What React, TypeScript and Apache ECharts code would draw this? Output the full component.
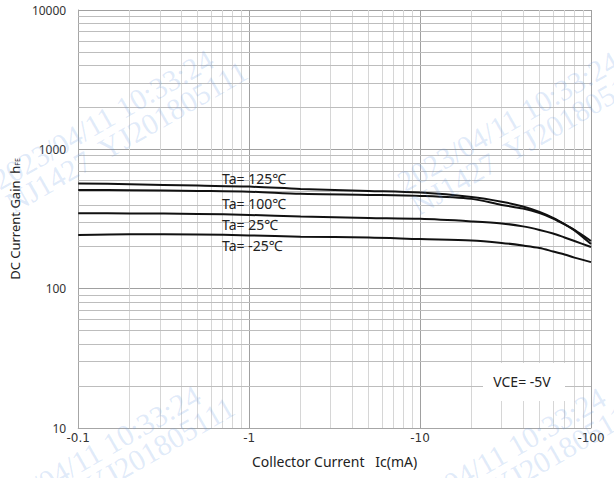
import React, { useEffect, useRef } from 'react';
import * as echarts from 'echarts';

// Collector current Ic (mA, magnitude; labels show negative sign)
const currentMA = [0.1, 0.2, 0.5, 1, 2, 5, 10, 20, 30, 40, 50, 60, 70, 80, 100];
// DC current gain hFE for each ambient temperature
const gain125 = [569, 562, 549, 540, 520, 503, 489, 455, 421, 389, 355, 322, 291, 264, 220];
const gain100 = [511, 509, 503, 497, 479, 471, 463, 441, 399, 376, 349, 319, 289, 262, 209];
const gain25 = [348, 347, 344, 338, 330, 322, 317, 304, 294, 280, 264, 249, 233, 220, 199];
const gainM25 = [243, 246, 245, 241, 236, 233, 227, 222, 213, 204, 196, 185, 176, 167, 155];
const seriesNames = ['Ta= 125℃', 'Ta= 100℃', 'Ta= 25℃', 'Ta= -25℃'];
const xTickLabels = ['-0.1', '-1', '-10', '-100'];
const yTickLabels = ['10', '100', '1000', '10000'];
const xMinorGrid = [0.2, 0.3, 0.4, 0.5, 0.6, 0.7, 0.8, 0.9, 2, 3, 4, 5, 6, 7, 8, 9, 20, 30, 40, 50, 60, 70, 80, 90];
const yMinorGrid = [20, 30, 40, 50, 60, 70, 80, 90, 200, 300, 400, 500, 600, 700, 800, 900, 2000, 3000, 4000, 5000, 6000, 7000, 8000, 9000];
const conditionText = 'VCE= -5V';
const watermarkText = '2023/04/11 10:33:24\nNJ1427  YJ201805111';

export default function App() {
  const ref = useRef<HTMLDivElement>(null);
  useEffect(() => {
    document.body.style.margin = '0';
    const chart = echarts.init(ref.current!, null, { renderer: 'svg' });
    const gains = [gain125, gain100, gain25, gainM25];
    const labelY = [178, 203, 224, 245];
    const wmPos = [[-12, 170], [393, 172], [-25, 506], [380, 508]];
    const font = 'Noto Sans';
    chart.setOption({
      animation: false,
      backgroundColor: '#fff',
      grid: { left: 78, right: 23, top: 10, bottom: 50 },
      xAxis: {
        type: 'log', logBase: 10, min: 0.1, max: 100,
        axisLine: { show: true, lineStyle: { color: '#a6a6a6', width: 1 } },
        axisTick: { show: false },
        axisLabel: { margin: 4, fontSize: 12, color: '#333', fontFamily: 'DejaVu Sans',
          formatter: (v: number, i: number) => xTickLabels[i] ?? '' },
        splitLine: { show: true, lineStyle: { color: '#a0a0a0', width: 1 } },
        name: 'Collector Current   Ic(mA)', nameLocation: 'middle', nameGap: 26,
        nameTextStyle: { fontSize: 14, color: '#222', fontFamily: font },
      },
      yAxis: {
        type: 'log', logBase: 10, min: 10, max: 10000,
        axisLine: { show: true, lineStyle: { color: '#a6a6a6', width: 1 } },
        axisTick: { show: false },
        axisLabel: { margin: 12, fontSize: 12, color: '#333', fontFamily: font,
          formatter: (v: number, i: number) => yTickLabels[i] ?? '' },
        splitLine: { show: true, lineStyle: { color: '#a0a0a0', width: 1 } },
        name: '{a|DC Current Gain  h}{b|FE}', nameLocation: 'middle', nameGap: 48,
        nameTextStyle: {
          rich: {
            a: { fontSize: 13, color: '#222', fontFamily: font, lineHeight: 16, verticalAlign: 'bottom' },
            b: { fontSize: 7, color: '#222', fontFamily: font, lineHeight: 8, verticalAlign: 'bottom' },
          },
        },
      },
      series: [
        {
          type: 'line', data: [], z: 1, silent: true,
          markLine: { silent: true, symbol: ['none', 'none'], label: { show: false }, animation: false,
            lineStyle: { color: '#d6d6d6', type: 'solid', width: 1 },
            data: xMinorGrid.map((v) => ({ xAxis: v })) },
        },
        {
          type: 'line', data: [], z: 1, silent: true,
          markLine: { silent: true, symbol: ['none', 'none'], label: { show: false }, animation: false,
            lineStyle: { color: '#bdbdbd', type: 'solid', width: 1 },
            data: yMinorGrid.map((v) => ({ yAxis: v })) },
        },
        ...gains.map((g, k) => ({
          name: seriesNames[k], type: 'line', smooth: 0.3, showSymbol: false, z: 5,
          lineStyle: { color: '#111', width: 2 },
          data: currentMA.map((x, i) => [x, g[i]]),
        })),
      ],
      graphic: [
        { type: 'rect', shape: { x: 483, y: 363, width: 82, height: 38 }, style: { fill: '#fff' }, z: 10 },
        { type: 'text', x: 522, y: 381, z: 11,
          style: { text: conditionText, fill: '#222', fontSize: 14, fontFamily: font, textAlign: 'center', textVerticalAlign: 'middle' } },
        ...seriesNames.map((n, k) => ({ type: 'text', x: 222, y: labelY[k], z: 11,
          style: { text: n, fill: '#222', fontSize: 14, fontFamily: font, textAlign: 'left', textVerticalAlign: 'middle' } })),
        ...wmPos.map((p) => ({ type: 'text', x: p[0], y: p[1], rotation: 30 * Math.PI / 180, z: 100, silent: true,
          style: { text: watermarkText, fill: 'rgba(100,150,225,0.2)', fontSize: 30, fontFamily: 'Liberation Serif',
            lineHeight: 27, textAlign: 'left', textVerticalAlign: 'top' } })),
      ],
    });
    return () => chart.dispose();
  }, []);
  return <div ref={ref} style={{ width: 614, height: 478 }} />;
}
